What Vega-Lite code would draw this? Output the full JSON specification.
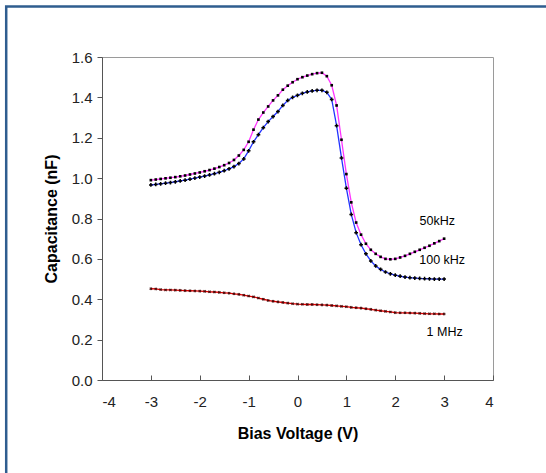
{
  "$schema": "https://vega.github.io/schema/vega-lite/v6.json",
  "autosize": "none",
  "width": 391,
  "height": 323,
  "padding": {"left": 102, "top": 57, "right": 53, "bottom": 93},
  "background": "white",
  "config": {
    "view": {"stroke": "#9a9a9a", "strokeWidth": 1},
    "font": "Liberation Sans",
    "axis": {
      "grid": false,
      "domainColor": "#555555",
      "tickColor": "#555555",
      "labelColor": "#222222",
      "titleColor": "#000000",
      "labelFont": "Liberation Sans",
      "titleFont": "Liberation Sans",
      "labelFontSize": 15,
      "titleFontSize": 16,
      "titleFontWeight": "bold"
    }
  },
  "datasets": {
    "curves": [
      {"V": -3.0, "C": 0.990, "series": "50kHz"}, {"V": -2.9, "C": 0.993, "series": "50kHz"}, {"V": -2.8, "C": 0.996, "series": "50kHz"}, {"V": -2.7, "C": 0.999, "series": "50kHz"}, {"V": -2.6, "C": 1.002, "series": "50kHz"}, {"V": -2.5, "C": 1.005, "series": "50kHz"}, {"V": -2.4, "C": 1.009, "series": "50kHz"}, {"V": -2.3, "C": 1.013, "series": "50kHz"}, {"V": -2.2, "C": 1.018, "series": "50kHz"}, {"V": -2.1, "C": 1.023, "series": "50kHz"}, {"V": -2.0, "C": 1.028, "series": "50kHz"}, {"V": -1.9, "C": 1.034, "series": "50kHz"}, {"V": -1.8, "C": 1.040, "series": "50kHz"}, {"V": -1.7, "C": 1.047, "series": "50kHz"}, {"V": -1.6, "C": 1.055, "series": "50kHz"}, {"V": -1.5, "C": 1.064, "series": "50kHz"}, {"V": -1.4, "C": 1.075, "series": "50kHz"}, {"V": -1.3, "C": 1.090, "series": "50kHz"}, {"V": -1.2, "C": 1.112, "series": "50kHz"}, {"V": -1.1, "C": 1.140, "series": "50kHz"}, {"V": -1.0, "C": 1.180, "series": "50kHz"}, {"V": -0.9, "C": 1.240, "series": "50kHz"}, {"V": -0.8, "C": 1.290, "series": "50kHz"}, {"V": -0.7, "C": 1.325, "series": "50kHz"}, {"V": -0.6, "C": 1.355, "series": "50kHz"}, {"V": -0.5, "C": 1.385, "series": "50kHz"}, {"V": -0.4, "C": 1.410, "series": "50kHz"}, {"V": -0.3, "C": 1.438, "series": "50kHz"}, {"V": -0.2, "C": 1.458, "series": "50kHz"}, {"V": -0.1, "C": 1.475, "series": "50kHz"}, {"V": 0.0, "C": 1.490, "series": "50kHz"}, {"V": 0.1, "C": 1.500, "series": "50kHz"}, {"V": 0.2, "C": 1.508, "series": "50kHz"}, {"V": 0.3, "C": 1.515, "series": "50kHz"}, {"V": 0.4, "C": 1.520, "series": "50kHz"}, {"V": 0.5, "C": 1.522, "series": "50kHz"}, {"V": 0.6, "C": 1.505, "series": "50kHz"}, {"V": 0.7, "C": 1.460, "series": "50kHz"}, {"V": 0.8, "C": 1.360, "series": "50kHz"}, {"V": 0.9, "C": 1.190, "series": "50kHz"}, {"V": 1.0, "C": 1.020, "series": "50kHz"}, {"V": 1.1, "C": 0.880, "series": "50kHz"}, {"V": 1.2, "C": 0.780, "series": "50kHz"}, {"V": 1.3, "C": 0.720, "series": "50kHz"}, {"V": 1.4, "C": 0.675, "series": "50kHz"}, {"V": 1.5, "C": 0.645, "series": "50kHz"}, {"V": 1.6, "C": 0.625, "series": "50kHz"}, {"V": 1.7, "C": 0.610, "series": "50kHz"}, {"V": 1.8, "C": 0.600, "series": "50kHz"}, {"V": 1.9, "C": 0.598, "series": "50kHz"}, {"V": 2.0, "C": 0.600, "series": "50kHz"}, {"V": 2.1, "C": 0.607, "series": "50kHz"}, {"V": 2.2, "C": 0.615, "series": "50kHz"}, {"V": 2.3, "C": 0.625, "series": "50kHz"}, {"V": 2.4, "C": 0.635, "series": "50kHz"}, {"V": 2.5, "C": 0.645, "series": "50kHz"}, {"V": 2.6, "C": 0.655, "series": "50kHz"}, {"V": 2.7, "C": 0.665, "series": "50kHz"}, {"V": 2.8, "C": 0.677, "series": "50kHz"}, {"V": 2.9, "C": 0.688, "series": "50kHz"}, {"V": 3.0, "C": 0.700, "series": "50kHz"},

      {"V": -3.0, "C": 0.966, "series": "100 kHz"}, {"V": -2.9, "C": 0.969, "series": "100 kHz"}, {"V": -2.8, "C": 0.972, "series": "100 kHz"}, {"V": -2.7, "C": 0.975, "series": "100 kHz"}, {"V": -2.6, "C": 0.978, "series": "100 kHz"}, {"V": -2.5, "C": 0.982, "series": "100 kHz"}, {"V": -2.4, "C": 0.986, "series": "100 kHz"}, {"V": -2.3, "C": 0.990, "series": "100 kHz"}, {"V": -2.2, "C": 0.995, "series": "100 kHz"}, {"V": -2.1, "C": 1.000, "series": "100 kHz"}, {"V": -2.0, "C": 1.005, "series": "100 kHz"}, {"V": -1.9, "C": 1.010, "series": "100 kHz"}, {"V": -1.8, "C": 1.016, "series": "100 kHz"}, {"V": -1.7, "C": 1.022, "series": "100 kHz"}, {"V": -1.6, "C": 1.029, "series": "100 kHz"}, {"V": -1.5, "C": 1.037, "series": "100 kHz"}, {"V": -1.4, "C": 1.046, "series": "100 kHz"}, {"V": -1.3, "C": 1.057, "series": "100 kHz"}, {"V": -1.2, "C": 1.072, "series": "100 kHz"}, {"V": -1.1, "C": 1.095, "series": "100 kHz"}, {"V": -1.0, "C": 1.135, "series": "100 kHz"}, {"V": -0.9, "C": 1.180, "series": "100 kHz"}, {"V": -0.8, "C": 1.215, "series": "100 kHz"}, {"V": -0.7, "C": 1.250, "series": "100 kHz"}, {"V": -0.6, "C": 1.280, "series": "100 kHz"}, {"V": -0.5, "C": 1.305, "series": "100 kHz"}, {"V": -0.4, "C": 1.330, "series": "100 kHz"}, {"V": -0.3, "C": 1.360, "series": "100 kHz"}, {"V": -0.2, "C": 1.385, "series": "100 kHz"}, {"V": -0.1, "C": 1.400, "series": "100 kHz"}, {"V": 0.0, "C": 1.410, "series": "100 kHz"}, {"V": 0.1, "C": 1.420, "series": "100 kHz"}, {"V": 0.2, "C": 1.427, "series": "100 kHz"}, {"V": 0.3, "C": 1.432, "series": "100 kHz"}, {"V": 0.4, "C": 1.435, "series": "100 kHz"}, {"V": 0.5, "C": 1.435, "series": "100 kHz"}, {"V": 0.6, "C": 1.425, "series": "100 kHz"}, {"V": 0.7, "C": 1.390, "series": "100 kHz"}, {"V": 0.8, "C": 1.260, "series": "100 kHz"}, {"V": 0.9, "C": 1.100, "series": "100 kHz"}, {"V": 1.0, "C": 0.950, "series": "100 kHz"}, {"V": 1.1, "C": 0.820, "series": "100 kHz"}, {"V": 1.2, "C": 0.730, "series": "100 kHz"}, {"V": 1.3, "C": 0.670, "series": "100 kHz"}, {"V": 1.4, "C": 0.625, "series": "100 kHz"}, {"V": 1.5, "C": 0.590, "series": "100 kHz"}, {"V": 1.6, "C": 0.565, "series": "100 kHz"}, {"V": 1.7, "C": 0.548, "series": "100 kHz"}, {"V": 1.8, "C": 0.535, "series": "100 kHz"}, {"V": 1.9, "C": 0.526, "series": "100 kHz"}, {"V": 2.0, "C": 0.519, "series": "100 kHz"}, {"V": 2.1, "C": 0.514, "series": "100 kHz"}, {"V": 2.2, "C": 0.510, "series": "100 kHz"}, {"V": 2.3, "C": 0.507, "series": "100 kHz"}, {"V": 2.4, "C": 0.505, "series": "100 kHz"}, {"V": 2.5, "C": 0.503, "series": "100 kHz"}, {"V": 2.6, "C": 0.502, "series": "100 kHz"}, {"V": 2.7, "C": 0.501, "series": "100 kHz"}, {"V": 2.8, "C": 0.500, "series": "100 kHz"}, {"V": 2.9, "C": 0.500, "series": "100 kHz"}, {"V": 3.0, "C": 0.500, "series": "100 kHz"},

      {"V": -3.0, "C": 0.452, "series": "1 MHz"}, {"V": -2.9, "C": 0.451, "series": "1 MHz"}, {"V": -2.8, "C": 0.448, "series": "1 MHz"}, {"V": -2.7, "C": 0.446, "series": "1 MHz"}, {"V": -2.6, "C": 0.446, "series": "1 MHz"}, {"V": -2.5, "C": 0.445, "series": "1 MHz"}, {"V": -2.4, "C": 0.444, "series": "1 MHz"}, {"V": -2.3, "C": 0.443, "series": "1 MHz"}, {"V": -2.2, "C": 0.442, "series": "1 MHz"}, {"V": -2.1, "C": 0.441, "series": "1 MHz"}, {"V": -2.0, "C": 0.440, "series": "1 MHz"}, {"V": -1.9, "C": 0.439, "series": "1 MHz"}, {"V": -1.8, "C": 0.437, "series": "1 MHz"}, {"V": -1.7, "C": 0.436, "series": "1 MHz"}, {"V": -1.6, "C": 0.434, "series": "1 MHz"}, {"V": -1.5, "C": 0.432, "series": "1 MHz"}, {"V": -1.4, "C": 0.430, "series": "1 MHz"}, {"V": -1.3, "C": 0.427, "series": "1 MHz"}, {"V": -1.2, "C": 0.424, "series": "1 MHz"}, {"V": -1.1, "C": 0.420, "series": "1 MHz"}, {"V": -1.0, "C": 0.416, "series": "1 MHz"}, {"V": -0.9, "C": 0.412, "series": "1 MHz"}, {"V": -0.8, "C": 0.406, "series": "1 MHz"}, {"V": -0.7, "C": 0.400, "series": "1 MHz"}, {"V": -0.6, "C": 0.394, "series": "1 MHz"}, {"V": -0.5, "C": 0.390, "series": "1 MHz"}, {"V": -0.4, "C": 0.387, "series": "1 MHz"}, {"V": -0.3, "C": 0.384, "series": "1 MHz"}, {"V": -0.2, "C": 0.381, "series": "1 MHz"}, {"V": -0.1, "C": 0.378, "series": "1 MHz"}, {"V": 0.0, "C": 0.376, "series": "1 MHz"}, {"V": 0.1, "C": 0.375, "series": "1 MHz"}, {"V": 0.2, "C": 0.374, "series": "1 MHz"}, {"V": 0.3, "C": 0.374, "series": "1 MHz"}, {"V": 0.4, "C": 0.373, "series": "1 MHz"}, {"V": 0.5, "C": 0.372, "series": "1 MHz"}, {"V": 0.6, "C": 0.371, "series": "1 MHz"}, {"V": 0.7, "C": 0.369, "series": "1 MHz"}, {"V": 0.8, "C": 0.367, "series": "1 MHz"}, {"V": 0.9, "C": 0.365, "series": "1 MHz"}, {"V": 1.0, "C": 0.363, "series": "1 MHz"}, {"V": 1.1, "C": 0.360, "series": "1 MHz"}, {"V": 1.2, "C": 0.358, "series": "1 MHz"}, {"V": 1.3, "C": 0.356, "series": "1 MHz"}, {"V": 1.4, "C": 0.353, "series": "1 MHz"}, {"V": 1.5, "C": 0.350, "series": "1 MHz"}, {"V": 1.6, "C": 0.346, "series": "1 MHz"}, {"V": 1.7, "C": 0.343, "series": "1 MHz"}, {"V": 1.8, "C": 0.340, "series": "1 MHz"}, {"V": 1.9, "C": 0.337, "series": "1 MHz"}, {"V": 2.0, "C": 0.334, "series": "1 MHz"}, {"V": 2.1, "C": 0.333, "series": "1 MHz"}, {"V": 2.2, "C": 0.333, "series": "1 MHz"}, {"V": 2.3, "C": 0.332, "series": "1 MHz"}, {"V": 2.4, "C": 0.331, "series": "1 MHz"}, {"V": 2.5, "C": 0.330, "series": "1 MHz"}, {"V": 2.6, "C": 0.329, "series": "1 MHz"}, {"V": 2.7, "C": 0.328, "series": "1 MHz"}, {"V": 2.8, "C": 0.328, "series": "1 MHz"}, {"V": 2.9, "C": 0.327, "series": "1 MHz"}, {"V": 3.0, "C": 0.327, "series": "1 MHz"}
    ],
    "labels": [
      {"V": 2.86, "C": 0.79, "label": "50kHz"},
      {"V": 2.96, "C": 0.594, "label": "100 kHz"},
      {"V": 3.01, "C": 0.238, "label": "1 MHz"}
    ],
    "frame": [
      {"x1": -5.96, "x2": 10, "y1": 1.85, "y2": -0.8}
    ]
  },
  "layer": [
    {
      "data": {"name": "frame"},
      "mark": {"type": "rect", "fill": "transparent", "stroke": "#2f5d8f", "strokeWidth": 2.5, "clip": false},
      "encoding": {
        "x": {"field": "x1", "type": "quantitative", "scale": {"domain": [-4, 4], "nice": false, "zero": false}},
        "x2": {"field": "x2"},
        "y": {"field": "y1", "type": "quantitative", "scale": {"domain": [0, 1.6], "nice": false}},
        "y2": {"field": "y2"}
      }
    },
    {
      "mark": {"type": "rule", "color": "#808080", "strokeWidth": 1},
      "encoding": {"x": {"datum": 0, "type": "quantitative"}}
    },
    {
      "data": {"name": "curves"},
      "mark": {"type": "line", "strokeWidth": 1.3},
      "encoding": {
        "x": {
          "field": "V", "type": "quantitative",
          "scale": {"domain": [-4, 4], "nice": false, "zero": false},
          "axis": {"values": [-4, -3, -2, -1, 0, 1, 2, 3, 4], "labelExpr": "datum.value + ''", "title": "Bias Voltage (V)", "tickSize": -5, "labelPadding": 19, "titlePadding": 16}
        },
        "y": {
          "field": "C", "type": "quantitative",
          "scale": {"domain": [0, 1.6], "nice": false},
          "axis": {"values": [0, 0.2, 0.4, 0.6, 0.8, 1.0, 1.2, 1.4, 1.6], "format": ".1f", "title": "Capacitance (nF)", "tickSize": 5, "labelPadding": 5, "titlePadding": 12}
        },
        "color": {
          "field": "series", "type": "nominal",
          "scale": {"domain": ["50kHz", "100 kHz", "1 MHz"], "range": ["#ff33ff", "#2233ff", "#e00000"]},
          "legend": null
        },
        "detail": {"field": "series"}
      }
    },
    {
      "data": {"name": "curves"},
      "transform": [{"filter": "datum.series === '50kHz'"}],
      "mark": {"type": "point", "shape": "square", "filled": true, "size": 7, "color": "#000000", "opacity": 1},
      "encoding": {"x": {"field": "V", "type": "quantitative"}, "y": {"field": "C", "type": "quantitative"}}
    },
    {
      "data": {"name": "curves"},
      "transform": [{"filter": "datum.series === '100 kHz'"}],
      "mark": {"type": "point", "shape": "cross", "filled": true, "size": 14, "color": "#000000", "opacity": 1},
      "encoding": {"x": {"field": "V", "type": "quantitative"}, "y": {"field": "C", "type": "quantitative"}}
    },
    {
      "data": {"name": "curves"},
      "transform": [{"filter": "datum.series === '1 MHz'"}],
      "mark": {"type": "point", "shape": "cross", "angle": 45, "filled": true, "size": 10, "color": "#3a0000", "opacity": 0.85},
      "encoding": {"x": {"field": "V", "type": "quantitative"}, "y": {"field": "C", "type": "quantitative"}}
    },
    {
      "data": {"name": "labels"},
      "mark": {"type": "text", "font": "Liberation Sans", "fontSize": 12.5, "color": "#000000", "align": "center", "baseline": "middle"},
      "encoding": {
        "x": {"field": "V", "type": "quantitative"},
        "y": {"field": "C", "type": "quantitative"},
        "text": {"field": "label"}
      }
    }
  ]
}
